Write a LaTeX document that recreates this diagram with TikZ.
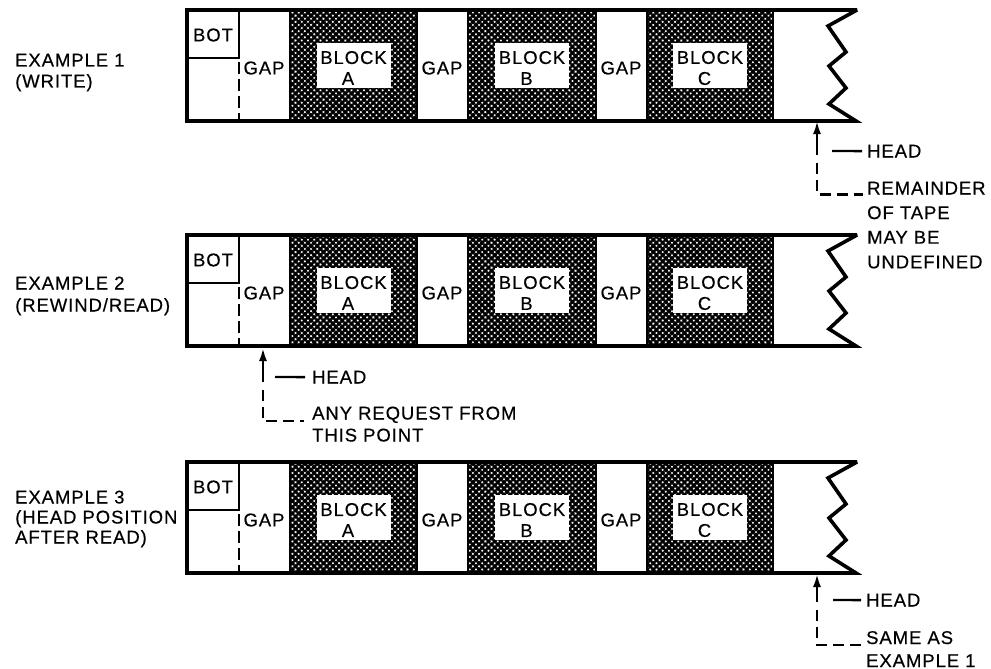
\documentclass[tikz,border=0pt]{standalone}
\usepackage{fontspec}
\setmainfont{Liberation Sans}[LetterSpace=5,FakeBold=0.4]
\usetikzlibrary{patterns.meta,arrows.meta}
\begin{document}
\begin{tikzpicture}[x=1pt,y=-1pt,
  lbl/.style={font=\fontsize{18.5}{21}\selectfont, inner sep=0pt},
  hatchfill/.style={pattern={Hatch[angle=45,distance=4.4pt,line width=2.5pt]}},
  outline/.style={line width=3.6pt, line join=miter, miter limit=4},
  divider/.style={line width=2.6pt},
  dashline/.style={line width=2.4pt, dash pattern=on 11pt off 6pt},
  leadline/.style={line width=2.3pt},
  tip/.style={-{Latex[length=13pt,width=8pt]}},
]
\fill[white] (0,0) rectangle (991,669);
\useasboundingbox (0,0) rectangle (991,669);

\foreach \T/\n in {10/1,235/2,462/3} {
  \pgfmathsetmacro\B{\T+111}
  % blocks
  \foreach \xa/\xb/\lt in {290/417/A,468/596/B,647/773/C} {
    \path[hatchfill] (\xa,\T) rectangle (\xb,\B);
    \fill[white] ({(\xa+\xb)/2-37},\T+33) rectangle ({(\xa+\xb)/2+37},\T+78);
    \draw[divider] (\xa,\T) -- (\xa,\B) (\xb,\T) -- (\xb,\B);
    \node[lbl,align=center] (blk\lt\n) at ({(\xa+\xb)/2},\T+58) {BLOCK\\\lt\hspace*{11pt}};
  }
  % BOT box
  \draw[divider] (187,\T+48) -- (239,\T+48) -- (239,\T);
  \draw[divider,dash pattern=on 12pt off 5pt] (239,\T+52) -- (239,\B);
  \node[lbl] (bot\n) at (213,\T+25) {BOT};
  \node[lbl] (gapa\n) at (264,\T+58) {GAP};
  \node[lbl] (gapb\n) at (442,\T+58) {GAP};
  \node[lbl] (gapc\n) at (621,\T+58) {GAP};
  % outline with torn end
  \draw[outline] (856,\B) -- (187,\B) -- (187,\T) -- (857,\T) -- (828,\T+16)
     -- (846,\T+42) -- (829,\T+56) -- (846,\T+78) -- (829,\T+94) -- cycle;
}

% left labels (anchored at the baseline of their last line)
\node[lbl,align=left,anchor=base west] (ex1) at (15,87.5) {EXAMPLE 1\\(WRITE)};
\node[lbl,align=left,anchor=base west,font=\fontsize{18.5}{22}\selectfont] (ex2) at (15,311.5) {EXAMPLE 2\\(REWIND/READ)};
\node[lbl,align=left,anchor=base west,font=\fontsize{18.5}{20}\selectfont] (ex3) at (15,543.5) {EXAMPLE 3\\(HEAD POSITION\\AFTER READ)};

% head 1
\node[lbl,anchor=base west] (head1) at (867,157.5) {HEAD};
\node[lbl,align=left,anchor=base west,font=\fontsize{18.5}{24.6}\selectfont] (note1) at (867,268.3) {REMAINDER\\OF TAPE\\MAY BE\\UNDEFINED};
\coordinate (tip1) at (817,121);
\coordinate (stem1) at (817,155);
\coordinate (dash1) at (817,163);
\coordinate (corner1) at (817,194.5);
\coordinate (end1) at (863,194.5);
\coordinate (lead1) at (832,151);
\draw[leadline,tip] (stem1) -- (tip1);
\draw[dashline] (dash1) -- (corner1) -- (end1);
\draw[leadline] (lead1) -- ([xshift=-5pt]head1.west);

% head 2
\node[lbl,anchor=base west] (head2) at (312,383.5) {HEAD};
\node[lbl,align=left,anchor=base west,font=\fontsize{18.5}{22}\selectfont] (note2) at (312,441.5) {ANY REQUEST FROM\\THIS POINT};
\coordinate (tip2) at (263,348);
\coordinate (stem2) at (263,382);
\coordinate (dash2) at (263,390);
\coordinate (corner2) at (263,421);
\coordinate (end2) at (304,421);
\coordinate (lead2) at (275,377);
\draw[leadline,tip] (stem2) -- (tip2);
\draw[dashline] (dash2) -- (corner2) -- (end2);
\draw[leadline] (lead2) -- ([xshift=-7pt]head2.west);

% head 3
\node[lbl,anchor=base west] (head3) at (866,606.5) {HEAD};
\node[lbl,align=left,anchor=base west,font=\fontsize{18.5}{23}\selectfont] (note3) at (866,667) {SAME AS\\EXAMPLE 1};
\coordinate (tip3) at (817,574);
\coordinate (stem3) at (817,602);
\coordinate (dash3) at (817,610);
\coordinate (corner3) at (817,645);
\coordinate (end3) at (862,645);
\coordinate (lead3) at (833,600);
\draw[leadline,tip] (stem3) -- (tip3);
\draw[dashline] (dash3) -- (corner3) -- (end3);
\draw[leadline] (lead3) -- ([xshift=-5pt]head3.west);
\end{tikzpicture}
\end{document}
